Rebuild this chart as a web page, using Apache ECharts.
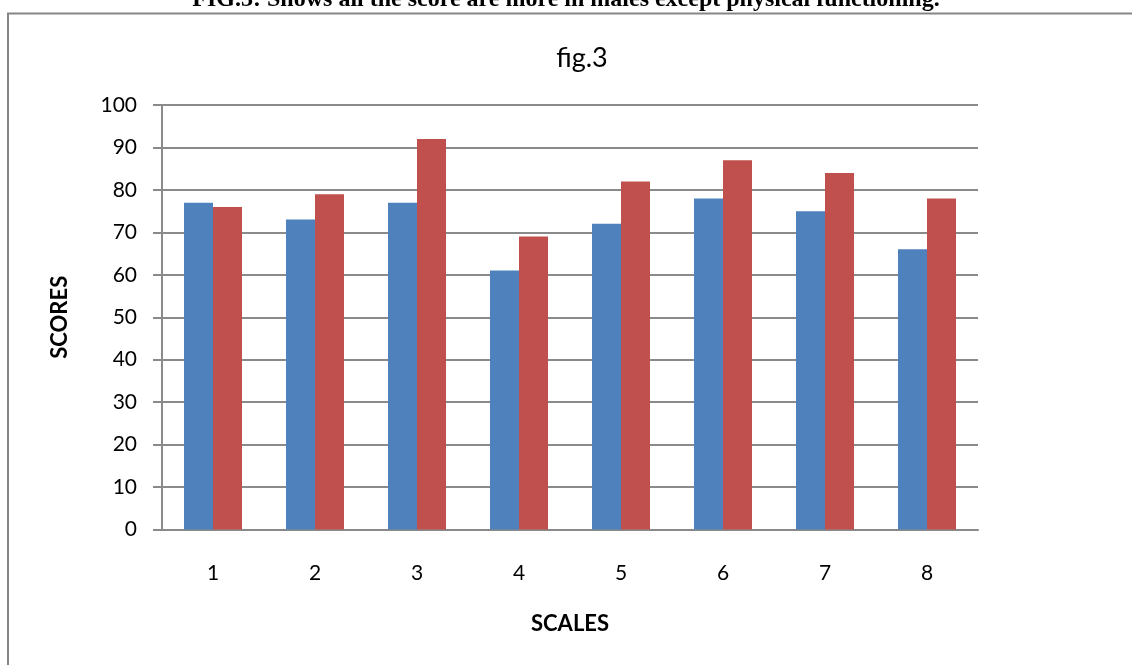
<!DOCTYPE html>
<html>
<head>
<meta charset="utf-8">
<script src="https://cdn.jsdelivr.net/npm/echarts@6/dist/echarts.min.js"></script>
<style>
  html, body { margin: 0; padding: 0; background: #fff; }
  #chart { width: 1132px; height: 665px; }
</style>
</head>
<body>
<div id="chart"></div>
<script>
// Scale numbers along the x axis and the two score series
const scales = ['1', '2', '3', '4', '5', '6', '7', '8'];
const seriesA = [77, 73, 77, 61, 72, 78, 75, 66];
const seriesB = [76, 79, 92, 69, 82, 87, 84, 78];
const yTicks = { min: 0, max: 100, interval: 10 };

const caption = 'FIG.3: Shows all the score are more in males except physical functioning.';
const gridColor = '#8a8a8a';
const textFont = 'Lato, "Open Sans", sans-serif';

const chart = echarts.init(document.getElementById('chart'), null, { renderer: 'canvas' });

chart.setOption({
  animation: false,
  backgroundColor: '#ffffff',
  title: {
    text: 'fig.3',
    left: 577,
    textAlign: 'center',
    top: 40,
    textStyle: { fontFamily: textFont, fontSize: 27, fontWeight: 'normal', color: '#000' }
  },
  graphic: [
    {
      type: 'rect',
      shape: { x: 8, y: 13.5, width: 1140, height: 680 },
      style: { fill: 'none', stroke: '#868686', lineWidth: 2 },
      z: -1
    },
    {
      type: 'text',
      x: 566,
      y: 12,
      style: {
        text: caption,
        fontFamily: '"Liberation Serif", "Times New Roman", serif',
        fontWeight: 'bold',
        fontSize: 24,
        fill: '#000',
        textAlign: 'center',
        textVerticalAlign: 'bottom'
      }
    }
  ],
  grid: { left: 162, right: 154, top: 105, bottom: 135.5, containLabel: false },
  xAxis: {
    type: 'category',
    data: scales,
    name: 'SCALES',
    nameLocation: 'middle',
    nameGap: 83,
    nameTextStyle: { fontFamily: textFont, fontSize: 22, fontWeight: 'bold', color: '#000' },
    axisLine: { show: true, lineStyle: { color: gridColor, width: 2 } },
    axisTick: { show: false },
    axisLabel: { margin: 33, fontFamily: textFont, fontSize: 21, color: '#000' },
    splitLine: { show: false }
  },
  yAxis: {
    type: 'value',
    min: yTicks.min,
    max: yTicks.max,
    interval: yTicks.interval,
    name: 'SCORES',
    nameLocation: 'middle',
    nameGap: 91,
    nameRotate: 90,
    nameTextStyle: { fontFamily: textFont, fontSize: 22, fontWeight: 'bold', color: '#000' },
    axisLine: { show: true, lineStyle: { color: gridColor, width: 2 } },
    axisTick: { show: true, length: 9, lineStyle: { color: gridColor, width: 2 } },
    axisLabel: { margin: 25, fontFamily: textFont, fontSize: 21, color: '#000' },
    splitLine: { show: true, lineStyle: { color: gridColor, width: 2 } }
  },
  series: [
    {
      type: 'bar',
      data: seriesA,
      barWidth: 29,
      barGap: '0%',
      itemStyle: { color: '#4f81bd' }
    },
    {
      type: 'bar',
      data: seriesB,
      barWidth: 29,
      barGap: '0%',
      itemStyle: { color: '#c0504d' }
    }
  ]
});
</script>
</body>
</html>
